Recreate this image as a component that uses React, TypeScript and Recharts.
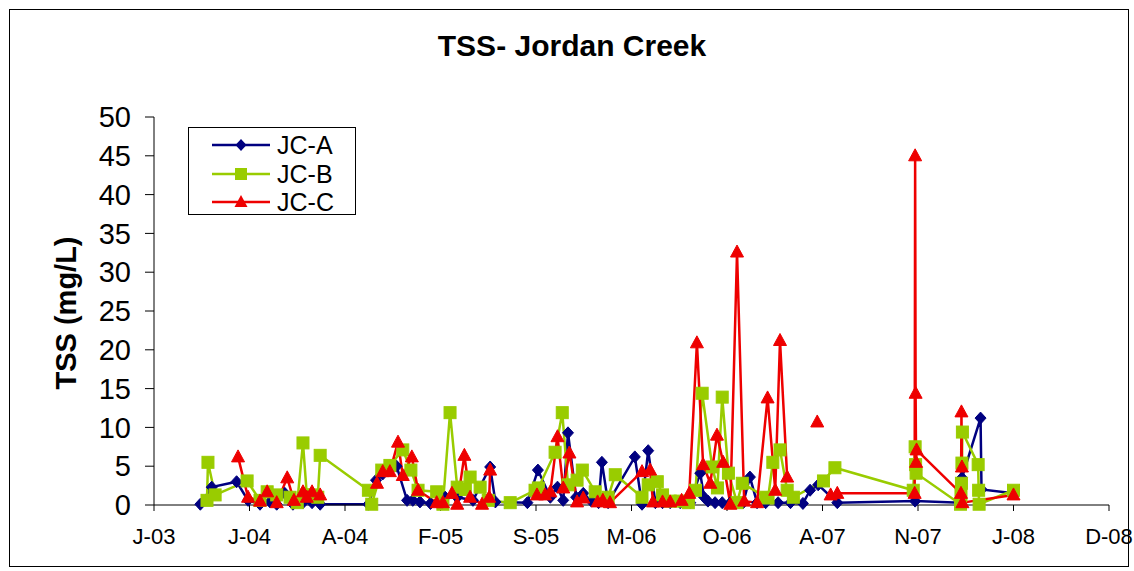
import React from 'react';
import { LineChart, Line, XAxis, YAxis } from 'recharts';

// ---- data -------------------------------------------------------------
// Sample dates (YYYY-MM-DD) and total suspended solids (mg/L) per site.
// A null value leaves a gap in that site's line.

const jcaDates = [
  '2003-10-03', '2003-10-27', '2003-12-18', '2004-01-11', '2004-02-05', '2004-02-26',
  '2004-03-11', '2004-03-28', '2004-04-14', '2004-05-05', '2004-05-24', '2004-06-10',
  '2004-09-19', '2004-10-05', '2004-10-19', '2004-11-03', '2004-11-17', '2004-12-09',
  '2004-12-21', '2005-01-05', '2005-01-27', '2005-02-27', '2005-03-24', '2005-04-26',
  '2005-06-01', '2005-06-12', '2005-08-18', '2005-09-09', '2005-10-05', '2005-10-20',
  '2005-11-01', '2005-11-11', '2005-11-28', '2005-12-13', '2005-12-30', '2006-01-14',
  '2006-01-21', '2006-02-03', '2006-03-31', '2006-04-15', '2006-04-28', '2006-05-13',
  '2006-05-28', '2006-06-13', '2006-07-04', '2006-07-25', '2006-08-15', '2006-08-23',
  '2006-08-31', '2006-09-15', '2006-09-30', '2006-10-17', '2006-11-13', '2006-11-27',
  '2006-12-12', '2006-12-30', '2007-01-25', '2007-02-20', '2007-03-18', '2007-04-02',
  '2007-04-19', '2007-05-29', '2007-11-08', '2008-02-11', '2008-02-14', '2008-03-24',
  '2008-03-26', '2008-06-01',
];
const jcaTss = [
  0.1, 2.3, 3.0, 0.6, 0.1, 0.4,
  0.1, 1.5, 0.1, 0.3, 0.3, 0.1,
  0.1, 3.2, 4.0, 4.5, 5.0, 0.6,
  0.6, 0.4, 0.2, 1.0, 1.0, 0.6,
  4.9, 0.4, 0.3, 4.5, 1.0, 2.3,
  0.6, 9.3, 1.0, 1.5, 0.5, 0.3,
  5.5, 0.3, 6.2, 0.1, 7.0, 0.3,
  0.3, 0.3, 0.3, 0.3, 4.1, 1.0,
  0.5, 0.3, 0.3, 0.3, 0.3, 3.6,
  0.3, 0.3, 0.3, 0.3, 0.2, 1.9,
  2.6, 0.3, 0.5, 0.3, 3.5, 11.2,
  2.0, 1.5,
];

const jcbDates = [
  '2003-10-17', '2003-10-19', '2003-11-03', '2004-01-09', '2004-02-05', '2004-02-20',
  '2004-03-11', '2004-04-08', '2004-04-23', '2004-05-05', '2004-05-13', '2004-05-24',
  '2004-06-05', '2004-06-10', '2004-09-19', '2004-09-26', '2004-10-17', '2004-11-03',
  '2004-11-30', '2004-12-17', '2005-01-01', '2005-02-09', '2005-02-22', '2005-03-09',
  '2005-03-24', '2005-04-10', '2005-04-20', '2005-05-11', '2005-05-28', '2005-07-13',
  '2005-09-03', '2005-09-10', '2005-10-15', '2005-10-30', '2005-11-11', '2005-11-30',
  '2005-12-11', '2006-01-07', '2006-02-03', '2006-02-18', '2006-04-15', '2006-04-28',
  '2006-05-17', '2006-05-28', '2006-06-13', '2006-07-04', '2006-07-21', '2006-08-05',
  '2006-08-19', '2006-09-09', '2006-09-20', '2006-09-30', '2006-10-13', '2006-10-31',
  '2006-11-11', '2006-12-30', '2007-01-04', '2007-01-14', '2007-01-29', '2007-02-13',
  '2007-02-26', '2007-04-30', '2007-05-24', '2007-11-04', '2007-11-08', '2007-11-09',
  '2007-11-10', '2008-02-11', '2008-02-12', '2008-02-13', '2008-02-14', '2008-02-15',
  '2008-03-19', '2008-03-20', '2008-03-21', '2008-06-01',
];
const jcbTss = [
  0.6, 5.5, 1.3, 3.1, 0.6, 1.7,
  1.3, 1.0, 0.3, 8.0, 1.3, 1.3,
  1.0, 6.4, 1.9, 0.1, 4.5, 5.1,
  7.1, 4.5, 1.9, 1.7, 0.1, 11.9,
  2.3, 2.0, 3.6, 2.3, 0.6, 0.3,
  1.9, 2.2, 6.8, 11.9, 2.6, 3.2,
  4.5, 1.7, 1.0, 3.9, 1.0, 2.6,
  3.0, 1.3, 0.5, 0.5, 0.3, 1.9,
  14.4, 4.9, 2.2, 13.9, 4.1, 0.3,
  2.8, 1.0, 0.9, 5.5, 7.1, 1.9,
  1.0, 3.1, 4.8, 1.9, 7.5, 5.2,
  4.1, 0.1, 1.3, 2.8, 5.4, 9.4,
  5.2, 1.9, 0.1, 1.9,
];

const jccDates = [
  '2003-12-21', '2004-01-11', '2004-02-05', '2004-02-20', '2004-03-11', '2004-04-02',
  '2004-04-16', '2004-05-05', '2004-05-13', '2004-05-24', '2004-06-10', '2004-08-01',
  '2004-10-07', '2004-10-19', '2004-11-03', '2004-11-20', '2004-11-30', '2004-12-19',
  '2005-01-01', '2005-02-09', '2005-02-22', '2005-03-13', '2005-03-24', '2005-04-08',
  '2005-04-20', '2005-05-15', '2005-05-30', '2005-06-01', '2005-08-01', '2005-09-07',
  '2005-09-24', '2005-10-05', '2005-10-20', '2005-11-01', '2005-11-14', '2005-11-30',
  '2005-12-13', '2006-01-12', '2006-01-23', '2006-02-07', '2006-04-15', '2006-05-02',
  '2006-05-08', '2006-05-28', '2006-06-13', '2006-07-07', '2006-07-23', '2006-08-08',
  '2006-08-21', '2006-09-05', '2006-09-19', '2006-10-02', '2006-10-17', '2006-10-31',
  '2006-11-15', '2006-12-12', '2007-01-03', '2007-01-19', '2007-01-29', '2007-02-13',
  '2007-03-20', '2007-04-17', '2007-04-30', '2007-05-15', '2007-05-29', '2007-11-07',
  '2007-11-08', '2007-11-09', '2007-11-10', '2007-11-11', '2008-02-12', '2008-02-13',
  '2008-02-14', '2008-02-15', '2008-06-01',
];
const jccTss = [
  6.2, 1.0, 0.5, 1.7, 0.3, 3.5,
  0.6, 1.7, 1.0, 1.7, 1.3, null,
  2.8, 4.3, 4.3, 8.1, 3.8, 6.2,
  1.9, 0.3, 0.3, 1.5, 0.1, 6.4,
  1.0, 0.1, 1.0, 4.5, null, 1.3,
  1.3, 1.7, 8.8, 2.2, 6.7, 0.4,
  0.9, 0.4, 0.6, 0.3, 4.3, 4.5,
  0.4, 0.4, 0.4, 0.6, 1.5, 20.9,
  5.2, 2.8, 9.0, 5.5, 0.1, 32.6,
  0.5, 0.3, 13.8, 1.9, 21.2, 3.6,
  null, 10.7, null, 1.3, 1.5, 1.5,
  45.0, 14.4, 5.5, 7.1, 1.5, 12.0,
  4.9, 0.3, 1.3,
];

// Date axis: first tick and spacing between ticks (days), with the labels shown.
const axisStartDate = '2003-06-28';
const tickSpacingDays = 200;
const xTickLabels = ['J-03', 'J-04', 'A-04', 'F-05', 'S-05', 'M-06', 'O-06', 'A-07', 'N-07', 'J-08', 'D-08'];
const yTicks = [0, 5, 10, 15, 20, 25, 30, 35, 40, 45, 50];

// ---- helpers ------------------------------------------------------------

const MS_PER_DAY = 86400000;
const toDay = (iso: string) => {
  const [y, m, d] = iso.split('-').map(Number);
  return Date.UTC(y, m - 1, d) / MS_PER_DAY;
};

const startDay = toDay(axisStartDate);
const xTicks = xTickLabels.map((_, i) => startDay + i * tickSpacingDays);
const xDomain: [number, number] = [xTicks[0], xTicks[xTicks.length - 1]];

const toSeries = (dates: string[], values: (number | null)[]) =>
  dates.map((d, i) => ({ day: toDay(d), tss: values[i] }));

const seriesA = toSeries(jcaDates, jcaTss);
const seriesB = toSeries(jcbDates, jcbTss);
const seriesC = toSeries(jccDates, jccTss);

const NAVY = '#000080';
const LIME = '#99cc00';
const RED = '#ee0000';
const FONT = '"Liberation Sans", Arial, Helvetica, sans-serif';

const hasPoint = (p: any) =>
  p && p.cx != null && p.cy != null && p.payload && p.payload.tss != null && !Number.isNaN(p.cy);

const Diamond = (p: any) => {
  if (!hasPoint(p)) return <g key={p.key} />;
  const { cx, cy } = p;
  return (
    <polygon
      key={p.key}
      points={`${cx},${cy - 6} ${cx + 5.5},${cy} ${cx},${cy + 6} ${cx - 5.5},${cy}`}
      fill={NAVY}
      stroke={NAVY}
      strokeWidth={1}
    />
  );
};

const Square = (p: any) => {
  if (!hasPoint(p)) return <g key={p.key} />;
  const { cx, cy } = p;
  return <rect key={p.key} x={cx - 6} y={cy - 6} width={12} height={12} fill={LIME} stroke={LIME} strokeWidth={1} />;
};

const Triangle = (p: any) => {
  if (!hasPoint(p)) return <g key={p.key} />;
  const { cx, cy } = p;
  return (
    <polygon
      key={p.key}
      points={`${cx},${cy - 7} ${cx + 6.5},${cy + 5} ${cx - 6.5},${cy + 5}`}
      fill={RED}
      stroke={RED}
      strokeWidth={1}
    />
  );
};

const legendItems = [
  { name: 'JC-A', color: NAVY, shape: 'diamond' },
  { name: 'JC-B', color: LIME, shape: 'square' },
  { name: 'JC-C', color: RED, shape: 'triangle' },
];

const LegendMarker = ({ color, shape }: { color: string; shape: string }) => {
  const cx = 29;
  const cy = 8;
  return (
    <svg width={58} height={16} style={{ display: 'block' }}>
      <line x1={0} y1={cy} x2={58} y2={cy} stroke={color} strokeWidth={2.5} />
      {shape === 'diamond' && (
        <polygon points={`${cx},${cy - 6} ${cx + 5.5},${cy} ${cx},${cy + 6} ${cx - 5.5},${cy}`} fill={color} />
      )}
      {shape === 'square' && <rect x={cx - 6} y={cy - 6} width={12} height={12} fill={color} />}
      {shape === 'triangle' && (
        <polygon points={`${cx},${cy - 7} ${cx + 6.5},${cy + 5} ${cx - 6.5},${cy + 5}`} fill={color} />
      )}
    </svg>
  );
};

export default function App() {
  return (
    <div
      style={{
        position: 'absolute',
        left: 0,
        top: 0,
        width: 1134,
        height: 571,
        background: '#fff',
        fontFamily: FONT,
        overflow: 'hidden',
      }}
    >
      {/* outer frame */}
      <div
        style={{
          position: 'absolute',
          left: 9,
          top: 9,
          width: 1118,
          height: 556,
          border: '1px solid #000',
        }}
      />

      <div
        style={{
          position: 'absolute',
          left: 0,
          top: 29,
          width: 1144,
          textAlign: 'center',
          fontSize: 30,
          fontWeight: 'bold',
          lineHeight: '34px',
          color: '#000',
        }}
      >
        TSS- Jordan Creek
      </div>

      <div
        style={{
          position: 'absolute',
          left: 66,
          top: 313,
          transform: 'translate(-50%, -50%) rotate(-90deg)',
          fontSize: 29,
          fontWeight: 'bold',
          whiteSpace: 'nowrap',
          lineHeight: '32px',
          color: '#000',
        }}
      >
        TSS (mg/L)
      </div>

      <div style={{ position: 'absolute', left: 0, top: 0 }}>
        <LineChart width={1134} height={571} margin={{ top: 117, right: 25, bottom: 26, left: 94 }}>
          <XAxis
            type="number"
            dataKey="day"
            domain={xDomain}
            ticks={xTicks}
            allowDataOverflow
            tickFormatter={(v: number) => xTickLabels[Math.round((v - startDay) / tickSpacingDays)] ?? ''}
            height={40}
            stroke="#000"
            tickSize={6}
            tickMargin={17}
            tick={{ fill: '#000', fontSize: 22, fontFamily: FONT }}
          />
          <YAxis
            type="number"
            domain={[0, 50]}
            ticks={yTicks}
            width={60}
            stroke="#000"
            tickSize={9}
            tickMargin={14}
            tick={{ fill: '#000', fontSize: 29, fontFamily: FONT }}
          />
          <Line
            data={seriesA}
            dataKey="tss"
            name="JC-A"
            stroke={NAVY}
            strokeWidth={2.5}
            dot={Diamond}
            activeDot={false}
            isAnimationActive={false}
          />
          <Line
            data={seriesB}
            dataKey="tss"
            name="JC-B"
            stroke={LIME}
            strokeWidth={2.5}
            dot={Square}
            activeDot={false}
            isAnimationActive={false}
          />
          <Line
            data={seriesC}
            dataKey="tss"
            name="JC-C"
            stroke={RED}
            strokeWidth={2.5}
            dot={Triangle}
            activeDot={false}
            isAnimationActive={false}
          />
        </LineChart>
      </div>

      {/* legend */}
      <div
        style={{
          position: 'absolute',
          left: 188,
          top: 127,
          width: 168,
          height: 88,
          border: '1px solid #000',
          background: '#fff',
          boxSizing: 'border-box',
          paddingTop: 3,
        }}
      >
        {legendItems.map((it) => (
          <div key={it.name} style={{ display: 'flex', alignItems: 'center', height: 28.5 }}>
            <div style={{ marginLeft: 23 }}>
              <LegendMarker color={it.color} shape={it.shape} />
            </div>
            <span style={{ marginLeft: 7, fontSize: 25, lineHeight: '28px', color: '#000' }}>{it.name}</span>
          </div>
        ))}
      </div>
    </div>
  );
}
